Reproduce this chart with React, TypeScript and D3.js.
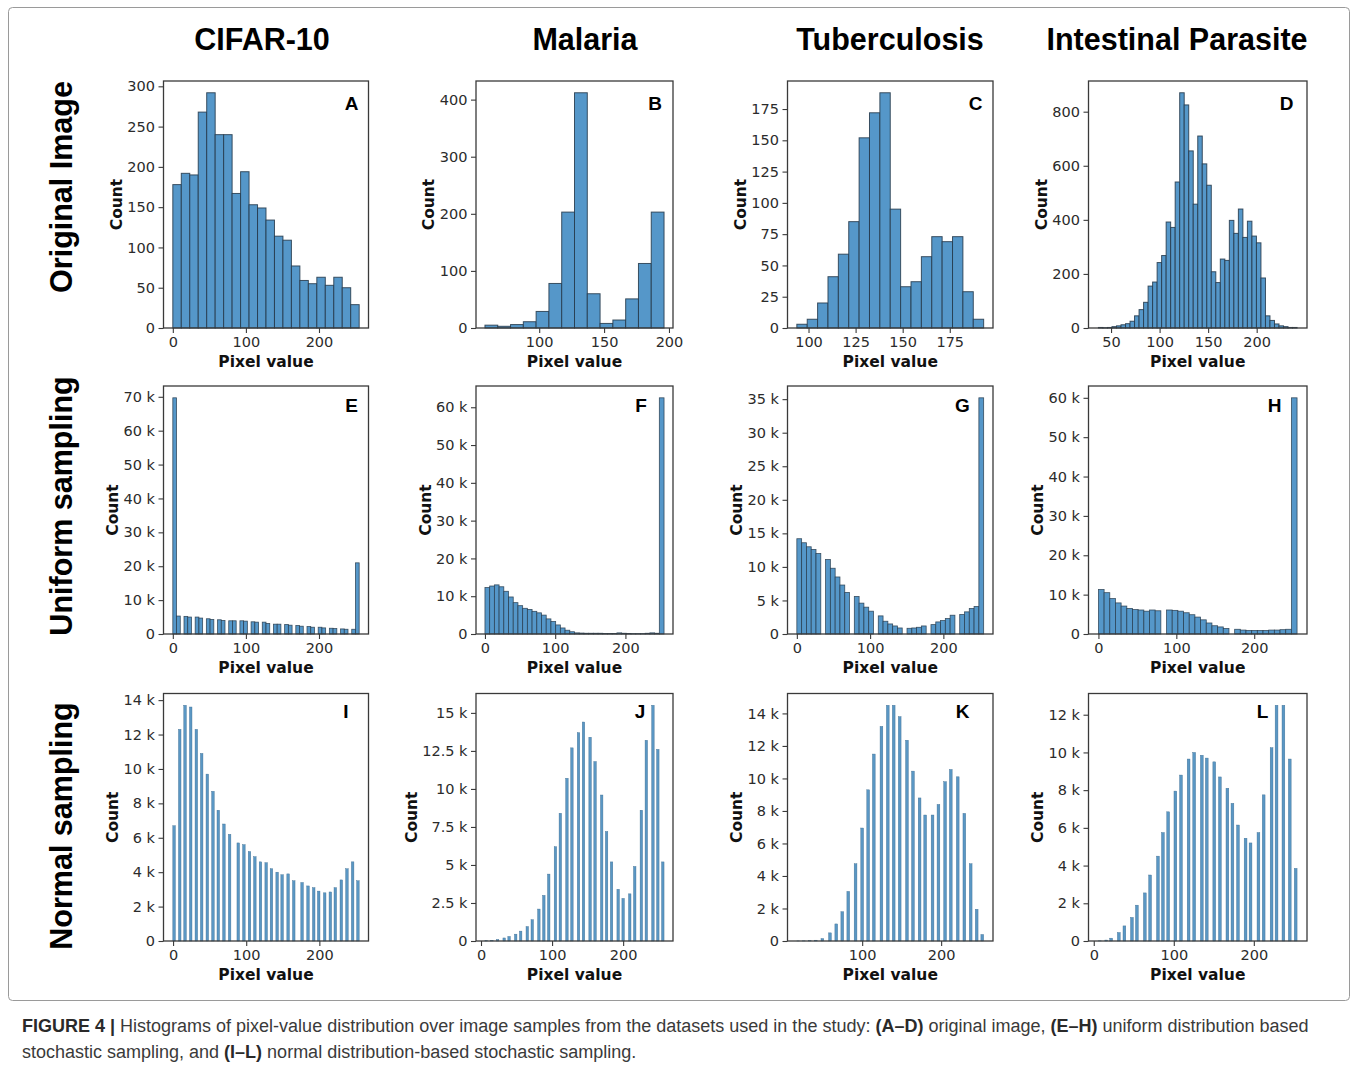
import React, { useEffect, useRef } from "react";
import * as d3 from "d3";

const WIDTH = 1357;
const HEIGHT = 1072;

// ---------- titles ----------
const columnTitles = ["CIFAR-10", "Malaria", "Tuberculosis", "Intestinal Parasite"];
const rowTitles = ["Original Image", "Uniform sampling", "Normal sampling"];
const panelLetters = ["A", "B", "C", "D", "E", "F", "G", "H", "I", "J", "K", "L"];

// ---------- row 1: original images (counts per bin, bin range [first edge, last edge]) ----------
const origCifarRange = [0, 255];
const origCifarCounts = [178, 192, 190, 268, 292, 240, 240, 167, 194, 153, 149, 134, 114, 109, 77, 59, 55, 63, 53, 63, 50, 29];
const origMalariaRange = [58.2, 196.2];
const origMalariaCounts = [5, 3, 6, 11, 29, 78, 203, 412, 60, 8, 14, 51, 113, 203];
const origTbRange = [93.8, 193.0];
const origTbCounts = [3, 7, 20, 41, 59, 85, 152, 172, 188, 95, 33, 37, 57, 73, 69, 73, 29, 7];
const origParasiteRange = [37, 241.6];
const origParasiteCounts = [2, 1, 2, 5, 8, 12, 16, 25, 45, 68, 95, 155, 170, 242, 268, 392, 372, 540, 870, 825, 655, 458, 710, 607, 528, 208, 168, 255, 250, 398, 350, 440, 335, 395, 340, 315, 185, 45, 28, 15, 8, 5, 2, 2];

// ---------- row 2: uniform sampling (thousands per bin) ----------
const unifCifarRange = [0, 255];
const unifCifarCounts = [69.7, 5.3, 0, 5.2, 5.0, 0, 5.0, 4.7, 0, 4.5, 4.3, 0, 4.2, 4.0, 0, 3.9, 3.9, 0, 3.9, 3.8, 0, 3.6, 3.5, 0, 3.5, 3.1, 0, 2.9, 2.9, 0, 2.8, 2.6, 0, 2.5, 2.3, 0, 2.2, 2.0, 0, 2.0, 1.8, 0, 1.7, 1.6, 0, 1.5, 1.4, 0, 1.4, 21.0];
const unifMalariaRange = [0, 255];
const unifMalariaCounts = [12.3, 12.7, 13.0, 12.5, 11.3, 9.8, 8.3, 7.5, 6.8, 6.5, 6.0, 5.6, 5.0, 4.0, 3.3, 2.4, 1.6, 1.0, 0.6, 0.3, 0.25, 0.2, 0.2, 0.2, 0.2, 0.15, 0.15, 0.15, 0.3, 0.2, 0.15, 0.1, 0.1, 0.1, 0.2, 0.3, 0.2, 62.5];
const unifTbRange = [0, 255];
const unifTbCounts = [14.2, 13.6, 13.0, 12.6, 12.0, 0, 11.1, 9.8, 8.5, 7.3, 6.2, 0, 5.6, 4.6, 4.0, 3.4, 0, 2.7, 1.9, 1.5, 1.2, 0.9, 0, 0.85, 0.9, 1.0, 1.2, 0, 1.4, 1.8, 2.0, 2.3, 2.8, 0, 2.9, 3.3, 3.8, 4.1, 35.2];
const unifParasiteRange = [0, 255];
const unifParasiteCounts = [11.3, 10.5, 9.0, 7.9, 7.1, 6.5, 6.2, 6.1, 5.8, 6.1, 5.9, 0, 6.1, 6.0, 5.8, 5.4, 4.9, 4.3, 3.6, 2.8, 2.1, 1.8, 1.4, 0, 1.2, 1.0, 0.9, 0.9, 0.9, 0.9, 1.0, 1.0, 1.1, 1.2, 60.0];

// ---------- row 3: normal sampling (pixel level, thousands) ----------
const normCifarLevels = [1.4, 9.1, 16.4, 24.1, 31.8, 39.1, 46.8, 54.5, 61.8, 69.5, 77.3, 89.1, 96.8, 104.5, 111.8, 119.5, 127.3, 134.5, 142.3, 149.1, 157.3, 165, 176.4, 184.5, 192.3, 199.1, 207.3, 215, 221.8, 230, 237.7, 245.5, 252.7];
const normCifarCounts = [6.7, 12.3, 13.7, 13.6, 12.3, 10.9, 9.7, 8.7, 7.6, 6.8, 6.2, 5.7, 5.6, 5.2, 4.9, 4.6, 4.55, 4.2, 4.0, 3.85, 3.9, 3.5, 3.4, 3.2, 3.1, 2.9, 2.8, 2.85, 3.1, 3.55, 4.2, 4.6, 3.5];
const normMalariaLevels = [7.3, 15.3, 23.3, 32.6, 39.5, 48.8, 55.8, 65.1, 72.1, 81.4, 88.4, 95.3, 104.7, 111.6, 120.9, 127.9, 137.2, 144.2, 153.5, 160.5, 169.8, 176.7, 183.7, 193, 200, 209.3, 216.3, 225.6, 232.6, 241.9, 248.8, 255.8];
const normMalariaCounts = [0.02, 0.05, 0.1, 0.2, 0.3, 0.45, 0.65, 0.95, 1.4, 2.1, 3.0, 4.4, 6.2, 8.4, 10.7, 12.7, 13.7, 14.4, 13.4, 11.8, 9.6, 7.2, 5.2, 3.4, 2.8, 3.1, 4.9, 8.6, 13.2, 15.5, 12.6, 5.2];
const normTbLevels = [19, 26, 33.5, 41.2, 49.6, 59.2, 67.2, 74.8, 82.4, 91.6, 100, 107.6, 114.7, 124.4, 132.4, 139.9, 147.5, 156.7, 164.3, 172.7, 179.8, 189.1, 196.6, 205, 212.2, 221, 229.4, 237.4, 245, 252.1];
const normTbCounts = [0.005, 0.01, 0.02, 0.05, 0.15, 0.5, 1.05, 1.8, 3.05, 4.75, 6.95, 9.3, 11.5, 13.2, 14.5, 14.5, 13.8, 12.35, 10.45, 8.8, 7.75, 7.75, 8.4, 9.8, 10.55, 10.1, 7.85, 4.75, 1.95, 0.4];
const normParasiteLevels = [7.6, 15.6, 21.8, 31.3, 38.3, 47.7, 53.9, 63.8, 70.4, 80.2, 86.4, 93, 102, 109, 118.5, 125.5, 135, 141.2, 150.6, 157.6, 167, 173.3, 180.2, 189.7, 195.9, 205.8, 212.3, 222.2, 228.4, 237, 244.9, 252.3];
const normParasiteCounts = [0.01, 0.05, 0.15, 0.45, 0.8, 1.25, 1.9, 2.55, 3.5, 4.5, 5.75, 6.85, 7.95, 8.8, 9.65, 10.0, 9.85, 9.7, 9.5, 8.7, 8.1, 7.3, 6.15, 5.45, 5.2, 5.75, 7.75, 10.25, 12.5, 12.5, 9.65, 3.85];

// ---------- tick values ----------
const yTicksA = [0, 50, 100, 150, 200, 250, 300];
const yTicksB = [0, 100, 200, 300, 400];
const yTicksC = [0, 25, 50, 75, 100, 125, 150, 175];
const yTicksD = [0, 200, 400, 600, 800];
const yTicksE = [0, 10, 20, 30, 40, 50, 60, 70];
const yTicksF = [0, 10, 20, 30, 40, 50, 60];
const yTicksG = [0, 5, 10, 15, 20, 25, 30, 35];
const yTicksH = [0, 10, 20, 30, 40, 50, 60];
const yTicksI = [0, 2, 4, 6, 8, 10, 12, 14];
const yTicksJ = [0, 2.5, 5, 7.5, 10, 12.5, 15];
const yTicksK = [0, 2, 4, 6, 8, 10, 12, 14];
const yTicksL = [0, 2, 4, 6, 8, 10, 12];
const xTicksFull = [0, 100, 200];
const xTicksB = [100, 150, 200];
const xTicksC = [100, 125, 150, 175];
const xTicksD = [50, 100, 150, 200];
const xTicksK = [100, 200];

const captionLine1 = [
  { t: "FIGURE 4 |", b: true },
  { t: " Histograms of pixel-value distribution over image samples from the datasets used in the study: ", b: false },
  { t: "(A–D)", b: true },
  { t: " original image, ", b: false },
  { t: "(E–H)", b: true },
  { t: " uniform distribution based", b: false },
];
const captionLine2 = [
  { t: "stochastic sampling, and ", b: false },
  { t: "(I–L)", b: true },
  { t: " normal distribution-based stochastic sampling.", b: false },
];

// ---------- layout ----------
const colX = [[163.5, 368.5], [476, 673], [787.5, 993], [1088.5, 1307]];
const rowY = [[81, 328], [386, 634], [693.5, 941]];
const titleX = [262, 585, 890, 1177];
const rowTitleY = [187, 506, 826];
const letterDx = [[-17, -18, -17.5, -20.5], [-17, -32, -30.5, -32.5], [-22.5, -33, -30.5, -44.5]];
const letterDy = [29, 26, 24];

const SANS = "'Liberation Sans', Arial, sans-serif";
const MPL = "'DejaVu Sans', sans-serif";
const AXIS_COLOR = "#3a3a3a";
const TEXT_COLOR = "#2b2b2b";
const BAR_FILL = "#5597c9";
const BAR_EDGE = "#25384a";
const THIN_FILL = "#5a97c4";

type Panel = {
  kind: "hist" | "levels";
  range?: number[];
  counts: number[];
  levels?: number[];
  yTicks: number[];
  xTicks: number[];
  k: boolean;
};

const panels: Panel[] = [
  { kind: "hist", range: origCifarRange, counts: origCifarCounts, yTicks: yTicksA, xTicks: xTicksFull, k: false },
  { kind: "hist", range: origMalariaRange, counts: origMalariaCounts, yTicks: yTicksB, xTicks: xTicksB, k: false },
  { kind: "hist", range: origTbRange, counts: origTbCounts, yTicks: yTicksC, xTicks: xTicksC, k: false },
  { kind: "hist", range: origParasiteRange, counts: origParasiteCounts, yTicks: yTicksD, xTicks: xTicksD, k: false },
  { kind: "hist", range: unifCifarRange, counts: unifCifarCounts, yTicks: yTicksE, xTicks: xTicksFull, k: true },
  { kind: "hist", range: unifMalariaRange, counts: unifMalariaCounts, yTicks: yTicksF, xTicks: xTicksFull, k: true },
  { kind: "hist", range: unifTbRange, counts: unifTbCounts, yTicks: yTicksG, xTicks: xTicksFull, k: true },
  { kind: "hist", range: unifParasiteRange, counts: unifParasiteCounts, yTicks: yTicksH, xTicks: xTicksFull, k: true },
  { kind: "levels", levels: normCifarLevels, counts: normCifarCounts, yTicks: yTicksI, xTicks: xTicksFull, k: true },
  { kind: "levels", levels: normMalariaLevels, counts: normMalariaCounts, yTicks: yTicksJ, xTicks: xTicksFull, k: true },
  { kind: "levels", levels: normTbLevels, counts: normTbCounts, yTicks: yTicksK, xTicks: xTicksK, k: true },
  { kind: "levels", levels: normParasiteLevels, counts: normParasiteCounts, yTicks: yTicksL, xTicks: xTicksFull, k: true },
];

// width of a single sampled-level bar, in pixel-value units
const LEVEL_BAR = 3.5;

function drawPanel(root: d3.Selection<SVGGElement, unknown, null, undefined>, p: Panel, idx: number) {
  const row = Math.floor(idx / 4);
  const col = idx % 4;
  const [x0, x1] = colX[col];
  const [y0, y1] = rowY[row];

  let lo: number;
  let hi: number;
  if (p.kind === "hist") {
    lo = p.range![0];
    hi = p.range![1];
  } else {
    lo = (d3.min(p.levels!) as number) - LEVEL_BAR / 2;
    hi = (d3.max(p.levels!) as number) + LEVEL_BAR / 2;
  }
  const pad = (hi - lo) * 0.05;
  const x = d3.scaleLinear().domain([lo - pad, hi + pad]).range([x0, x1]);
  const y = d3.scaleLinear().domain([0, (d3.max(p.counts) as number) * 1.05]).range([y1, y0]);

  const g = root.append("g");

  if (p.kind === "hist") {
    const w = (p.range![1] - p.range![0]) / p.counts.length;
    const bins = p.counts.map((c, i) => ({ a: p.range![0] + i * w, b: p.range![0] + (i + 1) * w, c }));
    g.append("g")
      .selectAll("rect")
      .data(bins.filter((d) => d.c > 0))
      .join("rect")
      .attr("x", (d) => x(d.a))
      .attr("width", (d) => x(d.b) - x(d.a))
      .attr("y", (d) => y(d.c))
      .attr("height", (d) => y(0) - y(d.c))
      .attr("fill", BAR_FILL)
      .attr("stroke", BAR_EDGE)
      .attr("stroke-opacity", 0.85)
      .attr("stroke-width", row === 0 ? 1 : 0.8);
  } else {
    const bars = p.levels!.map((v, i) => ({ v, c: p.counts[i] }));
    g.append("g")
      .selectAll("rect")
      .data(bars)
      .join("rect")
      .attr("x", (d) => x(d.v - LEVEL_BAR / 2))
      .attr("width", (d) => x(d.v + LEVEL_BAR / 2) - x(d.v - LEVEL_BAR / 2))
      .attr("y", (d) => y(d.c))
      .attr("height", (d) => y(0) - y(d.c))
      .attr("fill", THIN_FILL)
      .attr("stroke", "#3f6e92")
      .attr("stroke-width", 0.4);
  }

  // axes frame
  g.append("rect")
    .attr("x", x0)
    .attr("y", y0)
    .attr("width", x1 - x0)
    .attr("height", y1 - y0)
    .attr("fill", "none")
    .attr("stroke", AXIS_COLOR)
    .attr("stroke-width", 1.3);

  const fmt = (v: number) => (v === 0 ? "0" : p.k ? `${v} k` : `${v}`);

  const ya = g
    .append("g")
    .attr("transform", `translate(${x0},0)`)
    .call(d3.axisLeft(y).tickValues(p.yTicks).tickSize(5).tickPadding(3.5).tickFormat((v) => fmt(+v)));
  ya.select(".domain").remove();

  const xa = g
    .append("g")
    .attr("transform", `translate(0,${y1})`)
    .call(d3.axisBottom(x).tickValues(p.xTicks).tickSize(5).tickPadding(4).tickFormat((v) => `${v}`));
  xa.select(".domain").remove();

  [ya, xa].forEach((a) => {
    a.attr("font-family", MPL).attr("font-size", 14.5);
    a.selectAll("line").attr("stroke", AXIS_COLOR).attr("stroke-width", 1.1);
    a.selectAll("text").attr("fill", TEXT_COLOR);
  });

  const bb = (ya.node() as SVGGElement).getBBox();
  g.append("text")
    .attr("transform", `translate(${x0 + bb.x - 5.5},${(y0 + y1) / 2}) rotate(-90)`)
    .attr("text-anchor", "middle")
    .attr("font-family", MPL)
    .attr("font-weight", "bold")
    .attr("font-size", 15.5)
    .attr("fill", "#111")
    .text("Count");

  g.append("text")
    .attr("x", (x0 + x1) / 2)
    .attr("y", y1 + 39)
    .attr("text-anchor", "middle")
    .attr("font-family", MPL)
    .attr("font-weight", "bold")
    .attr("font-size", 15.5)
    .attr("fill", "#111")
    .text("Pixel value");

  g.append("text")
    .attr("x", x1 + letterDx[row][col])
    .attr("y", y0 + letterDy[row])
    .attr("text-anchor", "middle")
    .attr("font-family", SANS)
    .attr("font-weight", "bold")
    .attr("font-size", 19)
    .attr("fill", "#000")
    .text(panelLetters[idx]);
}

export default function App() {
  const ref = useRef<SVGSVGElement | null>(null);

  useEffect(() => {
    const svg = d3.select(ref.current);
    svg.selectAll("*").remove();

    svg.append("rect").attr("width", WIDTH).attr("height", HEIGHT).attr("fill", "#fff");

    // figure frame
    svg
      .append("rect")
      .attr("x", 8.5)
      .attr("y", 7.5)
      .attr("width", 1341)
      .attr("height", 993)
      .attr("rx", 4)
      .attr("fill", "none")
      .attr("stroke", "#9a9a9a")
      .attr("stroke-width", 1);

    const root = svg.append("g");

    columnTitles.forEach((t, i) => {
      root
        .append("text")
        .attr("x", titleX[i])
        .attr("y", 50)
        .attr("text-anchor", "middle")
        .attr("font-family", SANS)
        .attr("font-weight", "bold")
        .attr("font-size", 30.5)
        .attr("fill", "#000")
        .text(t);
    });

    rowTitles.forEach((t, i) => {
      root
        .append("text")
        .attr("transform", `translate(72,${rowTitleY[i]}) rotate(-90)`)
        .attr("text-anchor", "middle")
        .attr("font-family", SANS)
        .attr("font-weight", "bold")
        .attr("font-size", 30.5)
        .attr("fill", "#000")
        .text(t);
    });

    panels.forEach((p, i) => drawPanel(root, p, i));

    // caption
    const cap = svg.append("g").attr("font-family", SANS).attr("font-size", 18).attr("fill", "#3a3a3a");
    [captionLine1, captionLine2].forEach((line, li) => {
      const t = cap.append("text").attr("x", 22).attr("y", 1032 + li * 26);
      line.forEach((s) => {
        t.append("tspan")
          .attr("font-weight", s.b ? "bold" : "normal")
          .attr("fill", s.b ? "#2a2a2a" : "#3a3a3a")
          .text(s.t);
      });
    });
  }, []);

  return (
    <svg
      ref={ref}
      width={WIDTH}
      height={HEIGHT}
      viewBox={`0 0 ${WIDTH} ${HEIGHT}`}
      style={{ position: "absolute", left: 0, top: 0, display: "block" }}
    />
  );
}
